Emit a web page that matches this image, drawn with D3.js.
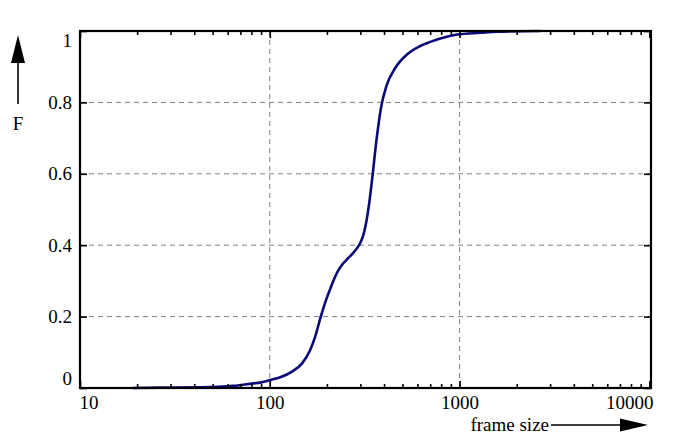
<!DOCTYPE html>
<html>
<head>
<meta charset="utf-8">
<script src="https://cdn.jsdelivr.net/npm/d3@7"></script>
<style>
  html, body { margin: 0; padding: 0; background: #fff; }
  svg { display: block; }
  svg text { font-family: "Liberation Serif", "DejaVu Serif", serif !important; font-size: 19px !important; fill: #000; }
</style>
</head>
<body>
<svg id="chart" width="700" height="444"></svg>
<script>
// ---- data ----
const frameSize = [19, 26.4, 43, 64, 82, 89, 100, 113.5, 131, 148, 163, 173.5, 184.5, 196, 208, 218.6, 230, 241, 255, 282, 300, 311, 322.4, 334.5, 347, 364, 387, 411, 459, 528, 621, 760, 970, 1290, 1580, 2670];
const cdf       = [0.000, 0.001, 0.002, 0.006, 0.013, 0.015, 0.022, 0.030, 0.046, 0.069, 0.106, 0.144, 0.195, 0.240, 0.277, 0.306, 0.330, 0.346, 0.360, 0.385, 0.407, 0.428, 0.465, 0.520, 0.590, 0.690, 0.790, 0.845, 0.897, 0.934, 0.958, 0.976, 0.990, 0.995, 0.998, 1.000];
const xTickValues = [10, 100, 1000, 10000];
const xTickLabels = ["10", "100", "1000", "10000"];
const xMinorTicks = [20,30,40,50,60,70,80,90,200,300,400,500,600,700,800,900,2000,3000,4000,5000,6000,7000,8000,9000];
const yTickValues = [0, 0.2, 0.4, 0.6, 0.8, 1];
const yTickLabels = ["0", "0.2", "0.4", "0.6", "0.8", "1"];
const xGridValues = [100, 1000];
const yGridValues = [0.2, 0.4, 0.6, 0.8];
const xLabel = "frame size";
const yLabel = "F";

const FONT = "Liberation Serif, DejaVu Serif, serif";
const svg = d3.select("#chart");
const L = 80, R = 651, T = 31, B = 388;
const x = d3.scaleLog().domain([10, 10200]).range([L, R]);
const y = d3.scaleLinear().domain([0, 1]).range([B, T]);

// grid
const grid = svg.append("g").attr("stroke", "#808080").attr("stroke-width", 1).attr("stroke-dasharray", "5,4");
grid.selectAll(".gx").data(xGridValues).join("line")
  .attr("x1", d => x(d)).attr("x2", d => x(d)).attr("y1", T).attr("y2", B);
grid.selectAll(".gy").data(yGridValues).join("line")
  .attr("x1", L).attr("x2", R).attr("y1", d => y(d)).attr("y2", d => y(d));

// curve
const line = d3.line().x((d, i) => x(frameSize[i])).y(d => y(d)).curve(d3.curveMonotoneX);
svg.append("path").datum(cdf).attr("d", line)
  .attr("fill", "none").attr("stroke", "#0a0a78").attr("stroke-width", 2.6);

// axes (ticks inward)
function styleAxis(g) {
  g.attr("font-family", FONT).attr("font-size", 19);
  g.select(".domain").remove();
  g.selectAll(".tick line").attr("stroke", "#000").attr("stroke-width", 1.6);
  g.selectAll("text").attr("font-family", FONT).attr("font-size", 19).attr("fill", "#000");
}
const fmtX = d => xTickLabels[xTickValues.indexOf(d)];
const fmtY = d => yTickLabels[yTickValues.indexOf(d)];

const gxB = svg.append("g").attr("transform", `translate(0,${B})`)
  .call(d3.axisBottom(x).tickValues(xTickValues).tickFormat(fmtX).tickSize(-7).tickPadding(10));
styleAxis(gxB);
gxB.selectAll(".tick text").attr("y", 8).attr("dy", "0.71em");
gxB.selectAll(".tick").filter(d => d === 10).select("text").attr("text-anchor", "start").attr("x", -1);
gxB.selectAll(".tick").filter(d => d === 10000).select("text").attr("text-anchor", "end").attr("x", R - x(10000) + 2);

const gxBm = svg.append("g").attr("transform", `translate(0,${B})`)
  .call(d3.axisBottom(x).tickValues(xMinorTicks).tickFormat("").tickSize(-4));
styleAxis(gxBm);
const gxT = svg.append("g").attr("transform", `translate(0,${T})`)
  .call(d3.axisTop(x).tickValues(xTickValues).tickFormat("").tickSize(-7));
styleAxis(gxT);
const gxTm = svg.append("g").attr("transform", `translate(0,${T})`)
  .call(d3.axisTop(x).tickValues(xMinorTicks).tickFormat("").tickSize(-4));
styleAxis(gxTm);

const gyL = svg.append("g").attr("transform", `translate(${L},0)`)
  .call(d3.axisLeft(y).tickValues(yTickValues).tickFormat(fmtY).tickSize(-7).tickPadding(8));
styleAxis(gyL);
gyL.selectAll(".tick text").attr("x", -8);
gyL.selectAll(".tick").filter(d => d === 1).select("text").attr("dy", "0.8em");
gyL.selectAll(".tick").filter(d => d === 0).select("text").attr("dy", "-0.2em");
const gyR = svg.append("g").attr("transform", `translate(${R},0)`)
  .call(d3.axisRight(y).tickValues(yTickValues).tickFormat("").tickSize(-7));
styleAxis(gyR);

// frame
svg.append("rect").attr("x", L).attr("y", T).attr("width", R - L).attr("height", B - T)
  .attr("fill", "none").attr("stroke", "#000").attr("stroke-width", 2.2);

// x label with arrow
svg.append("text").attr("x", 549).attr("y", 431).attr("text-anchor", "end").text(xLabel);
svg.append("line").attr("x1", 551).attr("x2", 622).attr("y1", 425).attr("y2", 425)
  .attr("stroke", "#000").attr("stroke-width", 1.6);
svg.append("path").attr("d", "M620,418.5 L648,425 L620,431.5 Z").attr("fill", "#000");

// y label with arrow
svg.append("text").attr("x", 18).attr("y", 130).attr("text-anchor", "middle").text(yLabel);
svg.append("line").attr("x1", 18).attr("x2", 18).attr("y1", 104).attr("y2", 60)
  .attr("stroke", "#000").attr("stroke-width", 1.6);
svg.append("path").attr("d", "M11,63 L18,35 L25,63 Z").attr("fill", "#000");
</script>
</body>
</html>
